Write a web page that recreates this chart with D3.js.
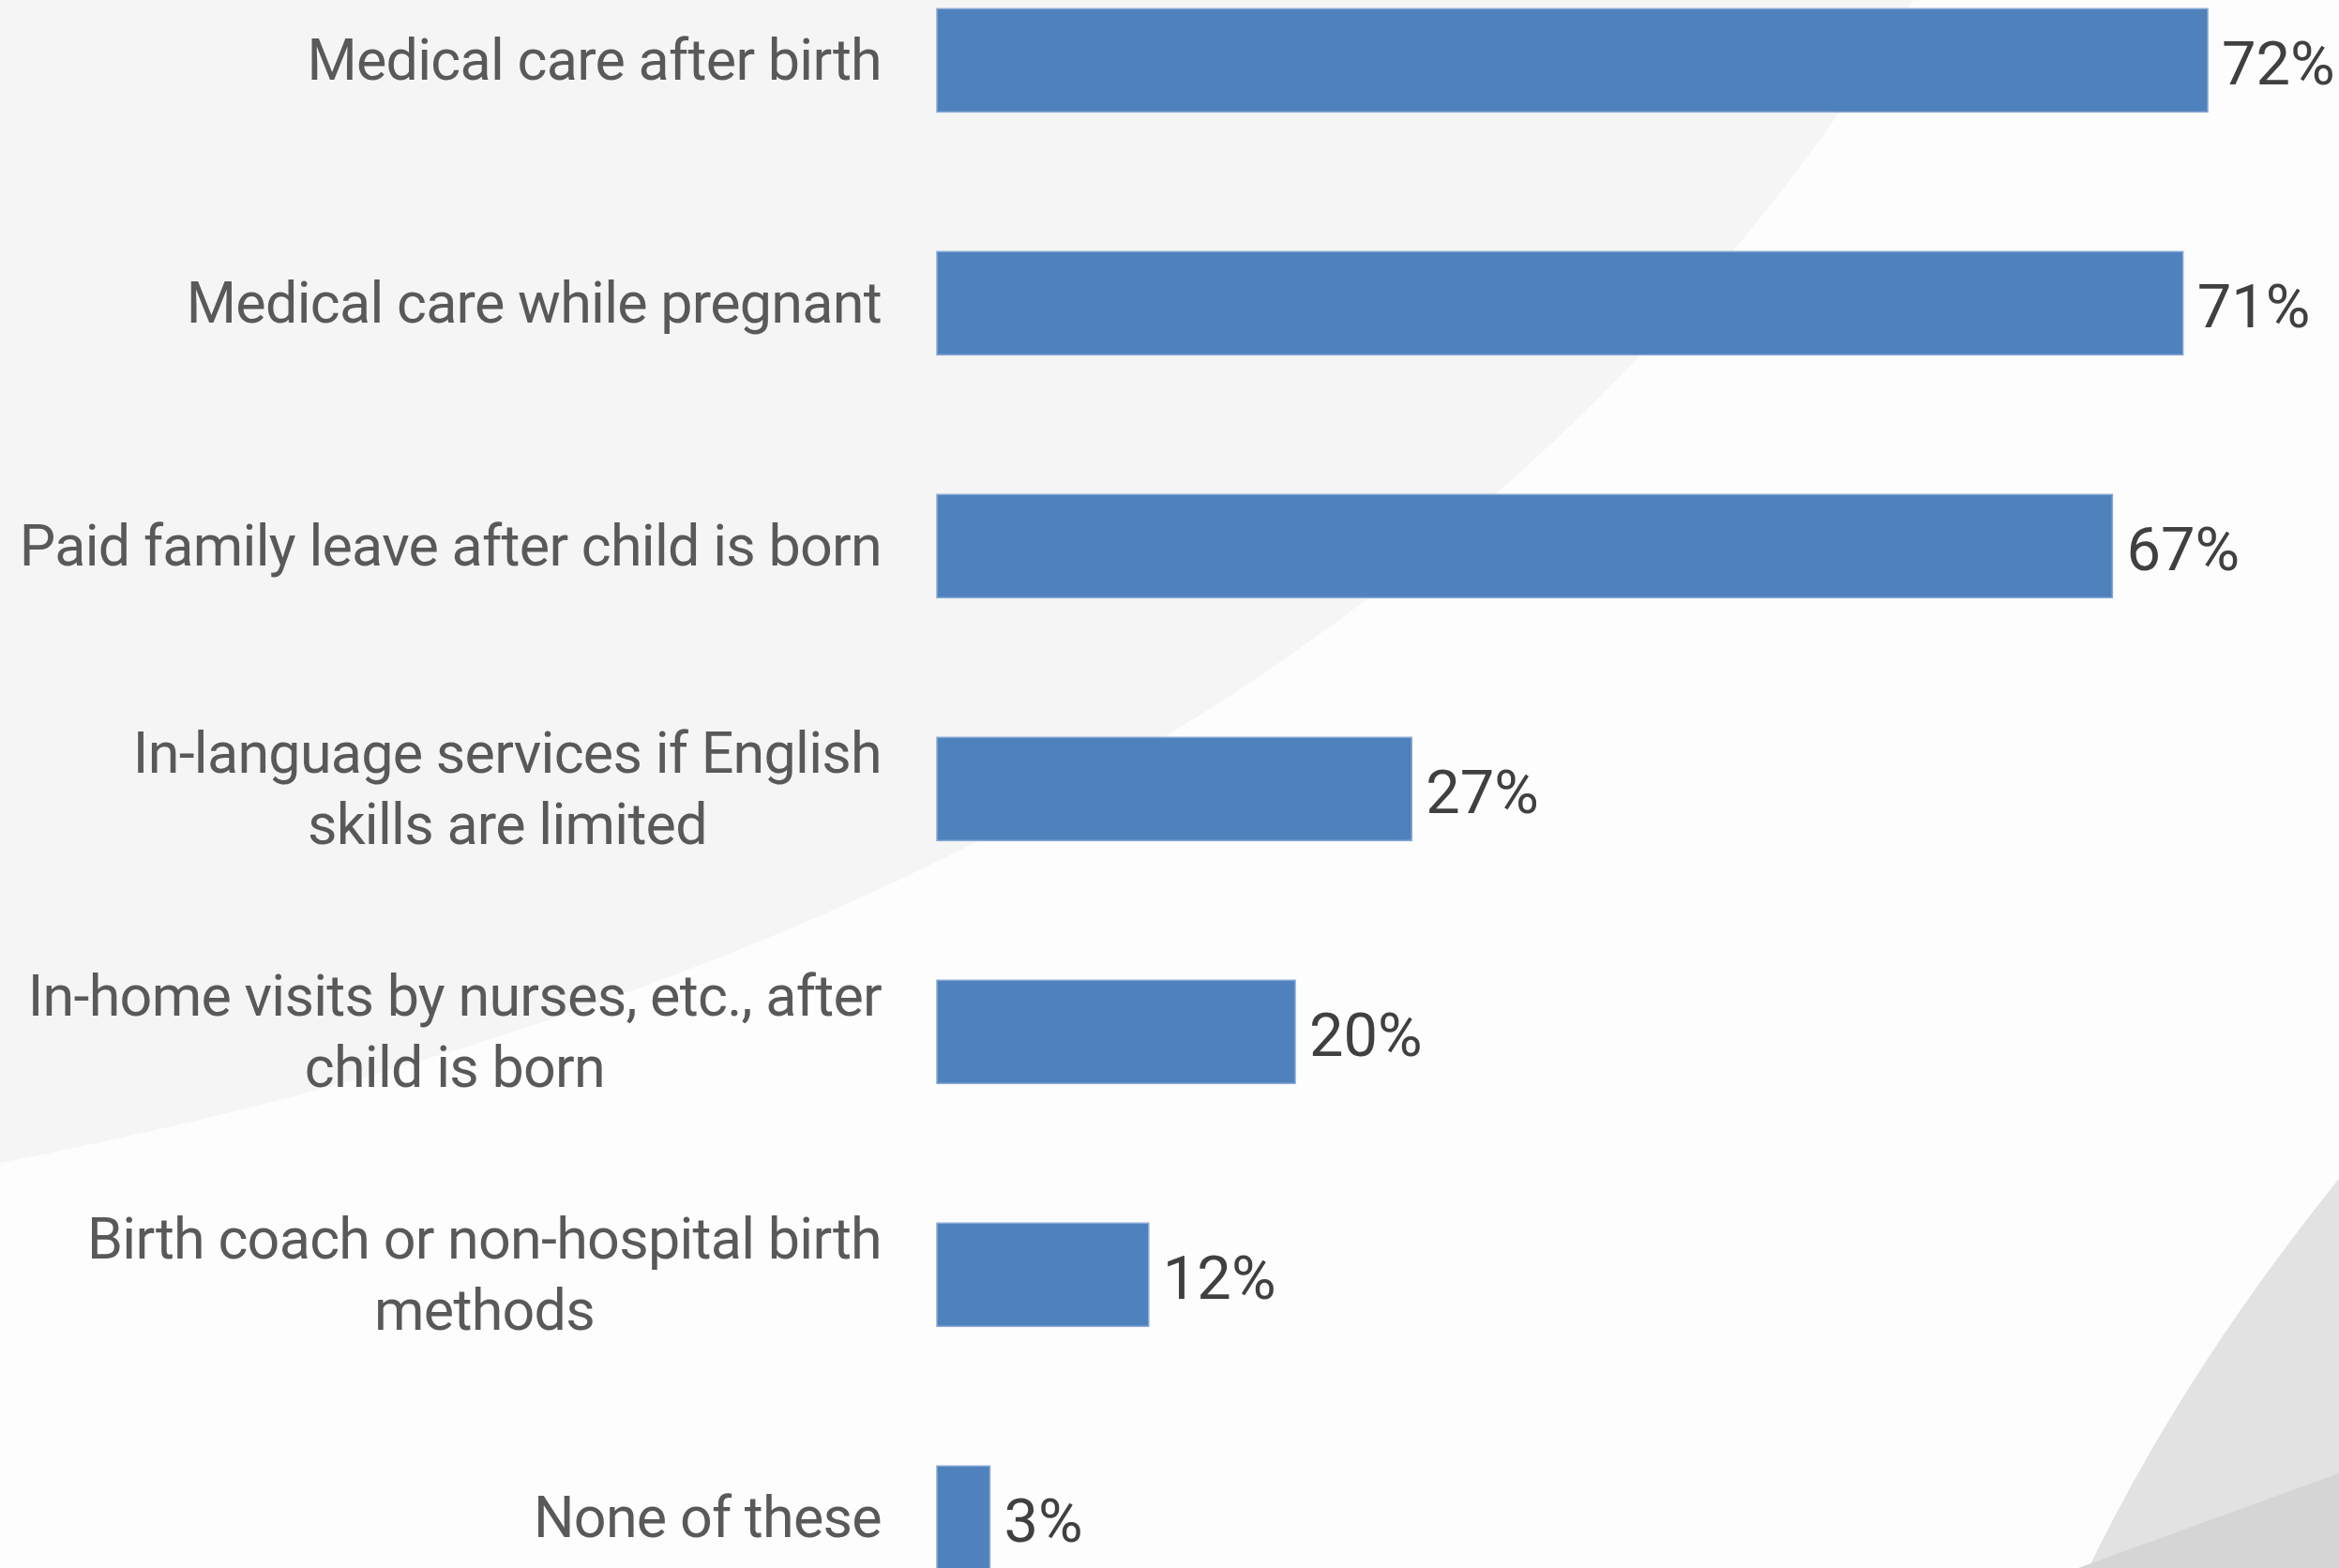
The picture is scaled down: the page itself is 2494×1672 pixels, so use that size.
<!DOCTYPE html>
<html>
<head>
<meta charset="utf-8">
<script src="https://cdn.jsdelivr.net/npm/d3@7"></script>
<style>
  html, body { margin: 0; padding: 0; background: #fdfdfd; }
  svg { display: block; }
</style>
</head>
<body>
<svg id="chart" width="2494" height="1672"></svg>
<script>
// ---- data ----
const categories = [
  "Medical care after birth",
  "Medical care while pregnant",
  "Paid family leave after child is born",
  "In-language services if English\nskills are limited",
  "In-home visits by nurses, etc., after\nchild is born",
  "Birth coach or non-hospital birth\nmethods",
  "None of these"
];
const values = [72, 70.6, 66.6, 26.9, 20.3, 12, 3];
const valueLabels = ["72%", "71%", "67%", "27%", "20%", "12%", "3%"];

// ---- layout ----
const W = 2494, H = 1672;
const svg = d3.select("#chart");

// background decoration
svg.append("rect").attr("x", 0).attr("y", 0).attr("width", W).attr("height", H).attr("fill", "#fdfdfd");
svg.append("path")
  .attr("d", "M0,0 L2040,0 Q1450,960 0,1240 Z")
  .attr("fill", "#f5f5f5");
svg.append("path")
  .attr("d", "M2494,1257 Q2330,1460 2227,1672 L2494,1672 Z")
  .attr("fill", "#e2e2e2");
svg.append("path")
  .attr("d", "M2494,1571 L2216,1672 L2494,1672 Z")
  .attr("fill", "#d5d5d5");

const x = d3.scaleLinear().domain([0, 72]).range([999, 2354]);
const y = d3.scaleBand()
  .domain(categories)
  .range([9.3, 9.3 + 1664])
  .paddingInner(0.575)
  .paddingOuter(0);

const g = svg.append("g");

g.selectAll("rect.bar")
  .data(categories)
  .join("rect")
  .attr("class", "bar")
  .attr("x", x(0))
  .attr("y", d => y(d))
  .attr("width", (d, i) => x(values[i]) - x(0))
  .attr("height", y.bandwidth())
  .attr("fill", "#4f81bd")
  .attr("stroke", "#88a9d5")
  .attr("stroke-width", 1.5);

// value labels
g.selectAll("text.val")
  .data(categories)
  .join("text")
  .attr("class", "val")
  .attr("x", (d, i) => x(values[i]) + 15)
  .attr("y", d => y(d) + y.bandwidth() / 2 + 26)
  .attr("font-family", "Roboto, sans-serif")
  .attr("font-size", 65)
  .attr("fill", "#404040")
  .text((d, i) => valueLabels[i]);

// category labels: lines centered within block, block right-aligned
const rightEdge = 940;
const lineH = 76;
categories.forEach(cat => {
  const lines = cat.split("\n");
  const cy = y(cat) + y.bandwidth() / 2 + 21;
  const t = g.append("text")
    .attr("font-family", "Roboto, sans-serif")
    .attr("font-size", 61)
    .attr("letter-spacing", "-0.72px")
    .attr("fill", "#595959")
    .attr("text-anchor", "middle");
  const spans = lines.map((ln, k) =>
    t.append("tspan")
      .attr("y", cy + (k - (lines.length - 1) / 2) * lineH)
      .text(ln)
  );
  const maxW = d3.max(spans, s => s.node().getComputedTextLength());
  const cx = rightEdge - maxW / 2;
  spans.forEach(s => s.attr("x", cx));
});
</script>
</body>
</html>
